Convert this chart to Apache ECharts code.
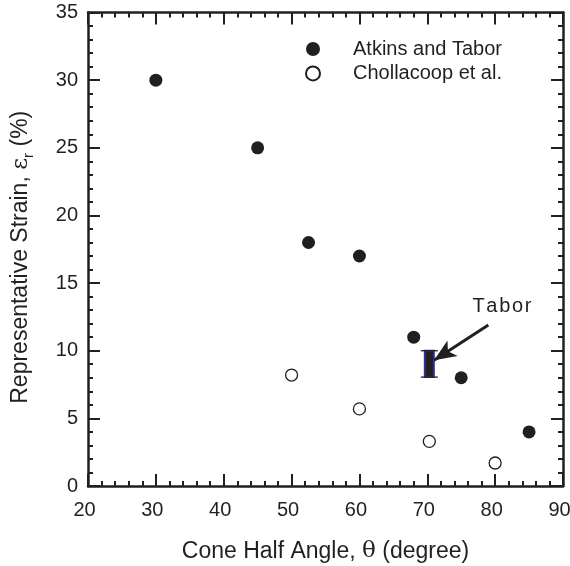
<!DOCTYPE html>
<html>
<head>
<meta charset="utf-8">
<script src="https://cdn.jsdelivr.net/npm/echarts@6/dist/echarts.min.js"></script>
<style>
  html, body { margin: 0; padding: 0; background: #fff; }
  #chart { width: 570px; height: 566px; }
</style>
</head>
<body>
<div id="chart"></div>
<script>
// data
var atkinsX = [30, 45, 52.5, 60, 68, 75, 85];
var atkinsY = [30, 25, 18, 17, 11, 8, 4];
var chollX = [50, 60, 70.3, 80];
var chollY = [8.2, 5.7, 3.3, 1.7];
// Tabor range: [angle, low, high]
var taborRange = [[70.3, 8.05, 10]];
var arrowFrom = [79, 11.9];
var arrowTo = [71.0, 9.3];
var labelAt = [81.0, 13.3];

var ink = "#231f20";
var font = "'Liberation Sans', Arial, sans-serif";

function pairs(xs, ys) {
  return xs.map(function (x, i) { return [x, ys[i]]; });
}

var frameAxis = {
  axisLine: { show: true, onZero: false, lineStyle: { color: ink, width: 2.5 } },
  axisTick: { show: true, inside: true, length: 12, lineStyle: { color: ink, width: 2 } },
  minorTick: { show: true, splitNumber: 5, length: 5, lineStyle: { color: ink, width: 2 } },
  splitLine: { show: false },
  minorSplitLine: { show: false }
};

function xAxisOf(pos, labels) {
  return Object.assign({
    type: "value", position: pos, min: 20, max: 90, interval: 10,
    axisLabel: { show: labels, color: ink, fontSize: 20, fontFamily: font, margin: 14, padding: [0, 7, 0, 0] }
  }, frameAxis);
}
function yAxisOf(pos, labels) {
  return Object.assign({
    type: "value", position: pos, min: 0, max: 35, interval: 5,
    axisLabel: { show: labels, color: ink, fontSize: 20, fontFamily: font, margin: 10 }
  }, frameAxis);
}

var xBottom = xAxisOf("bottom", true);
xBottom.name = "Cone Half Angle, {g|θ} (degree)";
xBottom.nameLocation = "middle";
xBottom.nameGap = 54;
xBottom.nameTextStyle = {
  color: ink, fontSize: 23, fontFamily: font,
  rich: { g: { fontSize: 23, fontFamily: "'DejaVu Serif', serif", color: ink } }
};

var yLeft = yAxisOf("left", true);
yLeft.name = "Representative Strain, {g|ε}{s|r} (%)";
yLeft.nameLocation = "middle";
yLeft.nameGap = 52;
yLeft.nameTextStyle = {
  color: ink, fontSize: 23, fontFamily: font, lineHeight: 30, padding: [0, 16, 0, 0],
  rich: {
    g: { fontSize: 23, lineHeight: 30, fontFamily: "'DejaVu Serif', serif", color: ink },
    s: { fontSize: 15, lineHeight: 15, fontFamily: font, color: ink, verticalAlign: "bottom" }
  }
};

var chart = echarts.init(document.getElementById("chart"));
chart.setOption({
  animation: false,
  backgroundColor: "#fff",
  grid: { left: 88, right: 7, top: 12.5, bottom: 80, containLabel: false, outerBoundsMode: "none" },
  legend: {
    orient: "vertical",
    left: 300, top: 34,
    itemWidth: 14, itemHeight: 14, itemGap: 4.4,
    textStyle: { color: ink, fontSize: 20, fontFamily: font, padding: [0, 0, 0, 28] },
    data: [
      { name: "Atkins and Tabor", icon: "circle" },
      { name: "Chollacoop et al.", icon: "circle" }
    ]
  },
  xAxis: [xBottom, xAxisOf("top", false)],
  yAxis: [yLeft, yAxisOf("right", false)],
  series: [
    {
      name: "Atkins and Tabor",
      type: "scatter",
      symbol: "circle",
      symbolSize: 13,
      itemStyle: { color: ink, opacity: 1 },
      data: pairs(atkinsX, atkinsY)
    },
    {
      name: "Chollacoop et al.",
      type: "scatter",
      symbol: "circle",
      symbolSize: 12,
      itemStyle: { color: "#fff", borderColor: ink, borderWidth: 1.3, opacity: 1 },
      data: pairs(chollX, chollY)
    },
    {
      name: "Tabor",
      type: "custom",
      renderItem: function (params, api) {
        var x = api.value(0);
        var top = api.coord([x, api.value(2)]);
        var bot = api.coord([x, api.value(1)]);
        return {
          type: "group",
          children: [
            { type: "rect", shape: { x: top[0] - 4.5, y: top[1], width: 9, height: bot[1] - top[1] },
              style: { fill: ink, stroke: "#2e3192", lineWidth: 2 } },
            { type: "line", shape: { x1: top[0] - 8.5, y1: top[1], x2: top[0] + 8.5, y2: top[1] },
              style: { stroke: ink, lineWidth: 1.3 } },
            { type: "line", shape: { x1: bot[0] - 8.5, y1: bot[1], x2: bot[0] + 8.5, y2: bot[1] },
              style: { stroke: ink, lineWidth: 1.3 } }
          ]
        };
      },
      encode: { x: 0, y: [1, 2] },
      data: taborRange,
      markLine: {
        silent: true,
        symbol: ["none", "arrow"],
        symbolSize: [14, 22],
        lineStyle: { color: ink, width: 3, type: "solid" },
        label: { show: false },
        data: [[{ coord: arrowFrom }, { coord: arrowTo }]]
      },
      markPoint: {
        silent: true,
        symbol: "circle",
        symbolSize: 0,
        label: {
          show: true, position: "inside", color: ink, fontSize: 20, fontFamily: font,
          formatter: "T\u200Aa\u200Ab\u200Ao\u200Ar"
        },
        data: [{ coord: labelAt }]
      }
    }
  ]
});
</script>
</body>
</html>
